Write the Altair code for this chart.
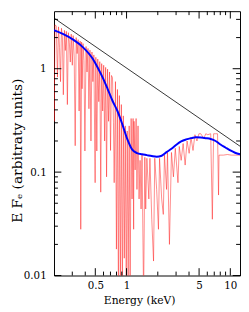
import altair as alt
import pandas as pd

FONT = "DejaVu Serif"

# ---- data ----
x_tick_labels = [0.5, 1, 5, 10]
x_minor_ticks = [0.3, 0.4, 0.6, 0.7, 0.8, 0.9, 2, 3, 4, 6, 7, 8, 9]
y_tick_labels = [0.01, 0.1, 1]
y_minor_ticks = [0.02, 0.03, 0.04, 0.05, 0.06, 0.07, 0.08, 0.09,
                 0.2, 0.3, 0.4, 0.5, 0.6, 0.7, 0.8, 0.9, 2, 3]

powerlaw_energy = [0.2, 12.4]
powerlaw_flux = [3.09, 0.178]

model_energy = [0.198, 0.246, 0.306, 0.381, 0.474, 0.528, 0.589, 0.656, 0.732,
                0.817, 0.911, 1.015, 1.13, 1.26, 1.41, 1.57, 1.75, 1.95, 2.18,
                2.43, 2.71, 3.02, 3.36, 3.75, 4.18, 4.66, 5.2, 5.8, 6.47, 7.21,
                8.04, 8.97, 10.0, 11.1, 12.4]
model_flux = [2.36, 2.16, 1.91, 1.61, 1.24, 1.02, 0.82, 0.64, 0.49,
              0.39, 0.29, 0.21, 0.166, 0.153, 0.149, 0.146, 0.143, 0.141, 0.144,
              0.156, 0.168, 0.184, 0.198, 0.207, 0.213, 0.217, 0.216, 0.213, 0.209, 0.20,
              0.185, 0.173, 0.162, 0.154, 0.149]

spec_energy = [
    0.198, 0.201, 0.204, 0.210, 0.216, 0.221, 0.226, 0.231, 0.236, 0.241,
    0.246, 0.252, 0.257, 0.263, 0.269, 0.275, 0.281, 0.287, 0.293, 0.300,
    0.306, 0.313, 0.320, 0.327, 0.334, 0.342, 0.349, 0.357, 0.362, 0.369,
    0.373, 0.381, 0.389, 0.397, 0.407, 0.416, 0.425, 0.434, 0.444, 0.454,
    0.464, 0.474, 0.484, 0.498, 0.506, 0.517, 0.528, 0.540, 0.552, 0.564,
    0.576, 0.589, 0.602, 0.615, 0.629, 0.642, 0.656, 0.671, 0.686, 0.701,
    0.716, 0.732, 0.748, 0.760, 0.782, 0.799, 0.817,
    0.835, 0.853, 0.872, 0.891, 0.911, 0.931, 0.951, 0.972, 0.993, 1.015,
    1.037, 1.06, 1.083, 1.107, 1.13, 1.156, 1.17, 1.18, 1.21, 1.236,
    1.26, 1.29, 1.32, 1.35, 1.38, 1.41, 1.46, 1.50, 1.53, 1.57,
    1.64, 1.68, 1.75, 1.82, 1.87, 1.95, 2.03, 2.08, 2.18, 2.26,
    2.32, 2.43, 2.48, 2.59, 2.71, 2.83, 2.95, 3.13, 3.22, 3.36,
    3.51, 3.67, 3.83, 4.01, 4.18, 4.37, 4.56, 4.77, 4.98, 5.2,
    5.55, 5.8, 6.06, 6.47, 6.71, 6.90, 7.21, 7.53, 7.70, 7.78,
    8.58, 9.37, 10.2, 11.1, 12.4]
spec_flux = [
    2.71, 0.31, 2.65, 2.60, 0.83, 2.54, 1.6, 0.75, 2.46, 2.0,
    0.56, 2.35, 1.5, 2.30, 0.45, 2.23, 1.8, 1.16, 2.16, 1.08,
    2.09, 1.3, 0.18, 2.0, 1.4, 1.91, 0.39, 1.85, 0.028, 1.81,
    0.64, 1.75, 1.2, 0.16, 1.64, 0.93, 1.57, 0.41, 1.51, 0.20,
    1.45, 0.75, 1.36, 0.079, 1.29, 0.16, 1.24, 0.48, 1.17, 0.064,
    1.12, 0.39, 1.08, 0.20, 1.03, 0.09, 0.99, 0.31, 0.93, 0.162,
    0.86, 0.82, 0.3, 0.079, 0.75, 0.018, 0.63,
    0.006, 0.55, 0.0076, 0.45, 0.006, 0.35, 0.0147, 0.28, 0.006, 0.25,
    0.0095, 0.28, 0.006, 0.33, 0.055, 0.33, 0.028, 0.31, 0.105, 0.33,
    0.068, 0.28, 0.055, 0.13, 0.044, 0.146, 0.006, 0.139, 0.044, 0.136,
    0.055, 0.136, 0.035, 0.0138, 0.136, 0.068, 0.028, 0.136, 0.055, 0.039,
    0.146, 0.068, 0.155, 0.020, 0.155, 0.090, 0.17, 0.079, 0.177, 0.13,
    0.189, 0.117, 0.20, 0.152, 0.216, 0.162, 0.23, 0.20, 0.235, 0.235,
    0.211, 0.235, 0.23, 0.235, 0.035, 0.235, 0.235, 0.235, 0.06, 0.146,
    0.146, 0.148, 0.146, 0.146, 0.146]

# ---- tables ----
spec_df = pd.DataFrame({"E": spec_energy, "F": spec_flux, "i": range(len(spec_energy))})
model_df = pd.DataFrame({"E": model_energy, "F": model_flux})
pl_df = pd.DataFrame({"E": powerlaw_energy, "F": powerlaw_flux})
xmaj_df = pd.DataFrame({"E": x_tick_labels})
xmin_df = pd.DataFrame({"E": x_minor_ticks})
ymaj_df = pd.DataFrame({"F": y_tick_labels})
ymin_df = pd.DataFrame({"F": y_minor_ticks})

W, H = 190, 270
MAJ, MIN = 7.5, 4

xscale = alt.Scale(type="log", domain=[0.2, 12.4], nice=False)
yscale = alt.Scale(type="log", domain=[0.01, 3.6], nice=False)

xaxis = alt.Axis(values=x_tick_labels, format="~g", domain=False, ticks=False, grid=False,
                 labelFont=FONT, labelFontSize=10.5, labelColor="black", labelPadding=5,
                 title="Energy (keV)", titleFont=FONT, titleFontSize=11,
                 titleFontWeight="normal", titleColor="black",
                 titleX=87, titleY=29, titleAlign="center", titleBaseline="alphabetic")
yaxis = alt.Axis(values=y_tick_labels, format="~g", domain=False, ticks=False, grid=False,
                 labelFont=FONT, labelFontSize=10.5, labelColor="black", labelPadding=8,
                 title="E F\u2091 (arbitraty units)", titleFont=FONT, titleFontSize=14,
                 titleFontWeight="normal", titleColor="black", titleAngle=270,
                 titleX=-33, titleY=142, titleAlign="center", titleBaseline="alphabetic")

X = alt.X("E:Q", scale=xscale, axis=xaxis)
Y = alt.Y("F:Q", scale=yscale, axis=yaxis)

spec = alt.Chart(spec_df).mark_line(color="#ff1a1a", strokeWidth=0.7, opacity=0.72, clip=True).encode(
    x=X, y=Y, order="i:Q")
pl = alt.Chart(pl_df).mark_line(color="black", strokeWidth=0.8, clip=True).encode(x=X, y=Y)
model = alt.Chart(model_df).mark_line(color="#0000ff", strokeWidth=2, interpolate="monotone", clip=True).encode(x=X, y=Y)


def xticks(df, L):
    base = alt.Chart(df).mark_rule(color="black", strokeWidth=1)
    return [base.encode(x=X, y=alt.value(H), y2=alt.value(H - L)),
            base.encode(x=X, y=alt.value(0), y2=alt.value(L))]


def yticks(df, L):
    base = alt.Chart(df).mark_rule(color="black", strokeWidth=1)
    return [base.encode(y=Y, x=alt.value(0), x2=alt.value(L)),
            base.encode(y=Y, x=alt.value(W), x2=alt.value(W - L))]


layers = [spec, pl, model] + xticks(xmaj_df, MAJ) + xticks(xmin_df, MIN) + yticks(ymaj_df, MAJ) + yticks(ymin_df, MIN)

chart = alt.layer(*layers).properties(
    width=W, height=H,
    padding={"left": 47, "top": 0, "right": 1, "bottom": 34},
    autosize=alt.AutoSizeParams(type="none"),
    background="white",
).configure_view(stroke="black", strokeWidth=1)

chart.save("out.html", embed_options={"renderer": "svg", "actions": False})
